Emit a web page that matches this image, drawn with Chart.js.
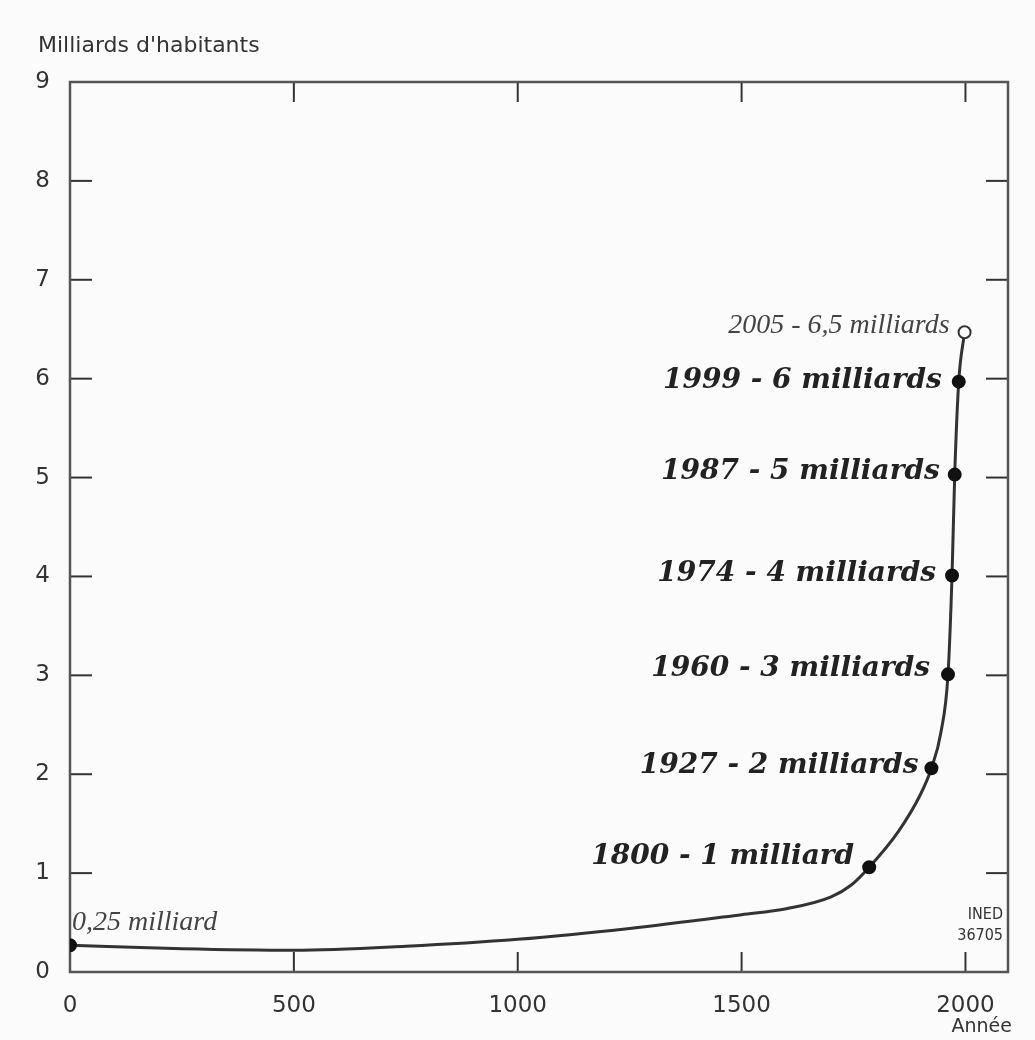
<!DOCTYPE html>
<html><head><meta charset="utf-8">
<script src="https://cdn.jsdelivr.net/npm/chart.js@4"></script>
<style>html,body{margin:0;padding:0;background:#fbfbfb}#wrap{width:1035px;height:1040px;position:relative}</style>
</head><body><div id="wrap"><canvas id="c"></canvas></div>
<script>
// ---- data ----
const curveYears  = [0, 250, 500, 750, 1000, 1250, 1500, 1600, 1700, 1745, 1785, 1850, 1900, 1924, 1945, 1961, 1970, 1976, 1985, 1998];
const curveValues = [0.27, 0.235, 0.22, 0.26, 0.33, 0.44, 0.58, 0.64, 0.76, 0.88, 1.06, 1.42, 1.80, 2.06, 2.42, 3.01, 4.01, 5.03, 5.97, 6.47];
const milestoneYears  = [0, 1785, 1924, 1961, 1970, 1976, 1985, 1998];
const milestoneValues = [0.27, 1.06, 2.06, 3.01, 4.01, 5.03, 5.97, 6.47];
const milestoneLabels = ["0,25 milliard", "1800 - 1 milliard", "1927 - 2 milliards", "1960 - 3 milliards",
                         "1974 - 4 milliards", "1987 - 5 milliards", "1999 - 6 milliards", "2005 - 6,5 milliards"];
const xTickValues = [0, 500, 1000, 1500, 2000];
const yTickValues = [0, 1, 2, 3, 4, 5, 6, 7, 8, 9];
const yTitle = "Milliards d'habitants";
const xTitle = "Année";
const sourceLines = ["INED", "36705"];

// ---- styles ----
const boldFont = "bold italic 28px 'DejaVu Serif'";
const lightFont = "italic 28px 'Liberation Serif'";
const labelStyles = [
  {font: lightFont, align: 'left',  dx: 2,   dy: -23, color: '#444'},
  {font: boldFont,  align: 'right', dx: -15, dy: -10, color: '#222'},
  {font: boldFont,  align: 'right', dx: -13, dy: -3,  color: '#222'},
  {font: boldFont,  align: 'right', dx: -18, dy: -6,  color: '#222'},
  {font: boldFont,  align: 'right', dx: -16, dy: -2,  color: '#222'},
  {font: boldFont,  align: 'right', dx: -15, dy: -3,  color: '#222'},
  {font: boldFont,  align: 'right', dx: -17, dy: -1,  color: '#222'},
  {font: "italic 28px 'Liberation Serif'", align: 'right', dx: -15, dy: -7, color: '#444'}
];

const decor = {
  id: 'decor',
  beforeDatasetsDraw(chart) {
    const {ctx, chartArea: a, scales: {x, y}} = chart;
    ctx.save();
    ctx.strokeStyle = '#333'; ctx.lineWidth = 2;
    xTickValues.forEach(v => {
      if (v === 0) return;
      const px = x.getPixelForValue(v);
      ctx.beginPath(); ctx.moveTo(px, a.top); ctx.lineTo(px, a.top + 20); ctx.stroke();
      ctx.beginPath(); ctx.moveTo(px, a.bottom); ctx.lineTo(px, a.bottom - 20); ctx.stroke();
    });
    yTickValues.forEach(v => {
      if (v === 0 || v === 9) return;
      const py = y.getPixelForValue(v);
      ctx.beginPath(); ctx.moveTo(a.left, py); ctx.lineTo(a.left + 22, py); ctx.stroke();
      ctx.beginPath(); ctx.moveTo(a.right, py); ctx.lineTo(a.right - 22, py); ctx.stroke();
    });
    ctx.strokeStyle = '#555'; ctx.lineWidth = 2.5;
    ctx.strokeRect(a.left, a.top, a.right - a.left, a.bottom - a.top);
    ctx.fillStyle = '#333';
    ctx.textBaseline = 'middle';
    ctx.font = "22px 'DejaVu Sans'"; ctx.textAlign = 'left';
    ctx.fillText(yTitle, 38, 46);
    ctx.font = "19px 'DejaVu Sans'"; ctx.textAlign = 'right';
    ctx.fillText(xTitle, 1012, 1027);
    ctx.font = "16px 'DejaVu Sans Condensed'"; ctx.textAlign = 'right';
    ctx.fillText(sourceLines[0], 1003, 915);
    ctx.fillText(sourceLines[1], 1003, 936);
    ctx.restore();
  },
  afterDatasetsDraw(chart) {
    const {ctx, scales: {x, y}} = chart;
    ctx.save();
    ctx.textBaseline = 'middle';
    milestoneLabels.forEach((t, i) => {
      const s = labelStyles[i];
      const px = x.getPixelForValue(milestoneYears[i]);
      const py = y.getPixelForValue(milestoneValues[i]);
      ctx.font = s.font; ctx.fillStyle = s.color; ctx.textAlign = s.align;
      ctx.fillText(t, px + s.dx, py + s.dy);
    });
    ctx.restore();
  }
};

new Chart(document.getElementById('c'), {
  type: 'scatter',
  data: {
    datasets: [
      {
        data: milestoneYears.map((v, i) => ({x: v, y: milestoneValues[i]})),
        order: 0,
        showLine: false,
        pointRadius: 6,
        pointBackgroundColor: c => c.dataIndex === milestoneYears.length - 1 ? '#fbfbfb' : '#111',
        pointBorderColor: c => c.dataIndex === milestoneYears.length - 1 ? '#333' : '#111',
        pointBorderWidth: 2
      },
      {
        data: curveYears.map((v, i) => ({x: v, y: curveValues[i]})),
        order: 1,
        showLine: true,
        cubicInterpolationMode: 'monotone',
        borderColor: '#333',
        borderWidth: 3,
        pointRadius: 0
      }
    ]
  },
  options: {
    responsive: true,
    maintainAspectRatio: false,
    animation: false,
    layout: {padding: {left: 0, top: 82, right: 27, bottom: 0}},
    plugins: {legend: {display: false}, tooltip: {enabled: false}},
    scales: {
      x: {
        type: 'linear', min: 0, max: 2095,
        afterBuildTicks: s => { s.ticks = xTickValues.map(v => ({value: v})); },
        afterFit: s => { s.height = 68; },
        grid: {display: false}, border: {display: false},
        ticks: {padding: 12, color: '#333', font: {family: 'DejaVu Sans', size: 23}, maxRotation: 0,
                callback: v => String(v)}
      },
      y: {
        type: 'linear', min: 0, max: 9,
        afterBuildTicks: s => { s.ticks = yTickValues.map(v => ({value: v})); },
        afterFit: s => { s.width = 70; },
        grid: {display: false}, border: {display: false},
        ticks: {padding: 12, color: '#333', font: {family: 'DejaVu Sans', size: 23}, callback: v => String(v)}
      }
    }
  },
  plugins: [decor]
});
</script></body></html>
